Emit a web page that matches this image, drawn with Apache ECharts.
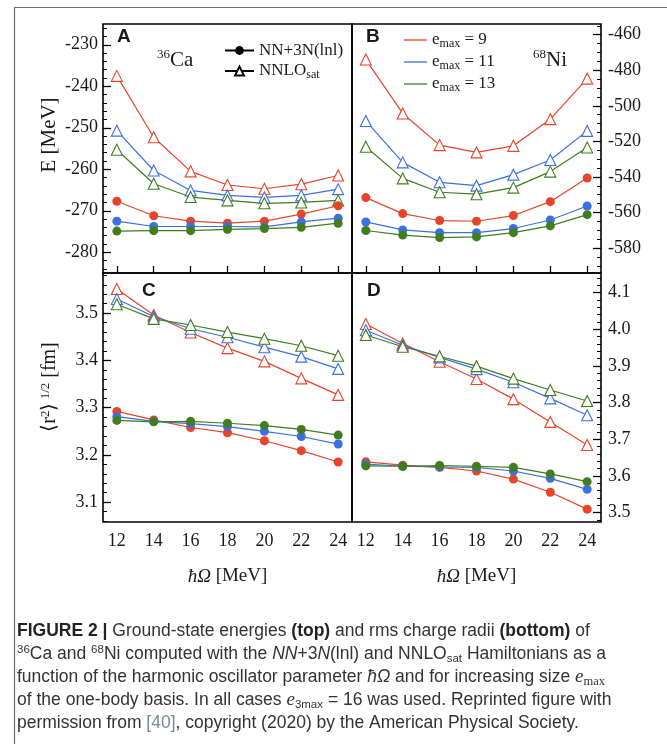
<!DOCTYPE html>
<html>
<head>
<meta charset="utf-8">
<script src="https://cdn.jsdelivr.net/npm/echarts@6/dist/echarts.min.js"></script>
<style>
  html, body { margin: 0; padding: 0; background: #fff; }
  #main { width: 667px; height: 744px; }
</style>
</head>
<body>
<div id="main"></div>
<script>
// harmonic oscillator frequency (MeV)
const hw = [12, 14, 16, 18, 20, 22, 24];

// A: 36Ca energies
const eCaLnl9 = [-267.7, -271.2, -272.5, -273.0, -272.5, -270.8, -268.8];
const eCaLnl11 = [-272.5, -273.8, -273.8, -273.8, -273.9, -272.7, -271.8];
const eCaLnl13 = [-274.9, -274.8, -274.8, -274.5, -274.3, -274.0, -273.0];
const eCaSat9 = [-237.5, -252.3, -260.5, -263.8, -264.7, -263.6, -261.5];
const eCaSat11 = [-250.7, -260.3, -265.1, -266.3, -266.8, -266.3, -264.8];
const eCaSat13 = [-255.3, -263.5, -266.7, -267.5, -268.2, -268.0, -267.5];

// B: 68Ni energies
const eNiLnl9 = [-551.6, -560.6, -564.5, -564.9, -561.7, -553.9, -540.6];
const eNiLnl11 = [-565.3, -569.8, -571.3, -571.3, -569.0, -564.2, -556.3];
const eNiLnl13 = [-570.1, -572.7, -574.1, -573.7, -571.3, -567.5, -561.2];
const eNiSat9 = [-474.0, -504.3, -522.1, -526.2, -522.5, -507.5, -484.7];
const eNiSat11 = [-508.5, -531.8, -543.0, -544.9, -538.7, -530.5, -514.1];
const eNiSat13 = [-523.0, -540.8, -548.6, -549.7, -546.0, -537.0, -523.4];

// C: 36Ca radii
const rCaLnl9 = [3.292, 3.274, 3.258, 3.247, 3.230, 3.209, 3.185];
const rCaLnl11 = [3.281, 3.271, 3.266, 3.260, 3.250, 3.239, 3.223];
const rCaLnl13 = [3.273, 3.270, 3.271, 3.267, 3.262, 3.254, 3.242];
const rCaSat9 = [3.551, 3.496, 3.459, 3.426, 3.398, 3.362, 3.327];
const rCaSat11 = [3.530, 3.493, 3.467, 3.449, 3.428, 3.408, 3.382];
const rCaSat13 = [3.519, 3.488, 3.475, 3.460, 3.446, 3.431, 3.410];

// D: 68Ni radii
const rNiLnl9 = [3.638, 3.629, 3.623, 3.613, 3.591, 3.555, 3.509];
const rNiLnl11 = [3.632, 3.626, 3.624, 3.623, 3.613, 3.593, 3.563];
const rNiLnl13 = [3.627, 3.626, 3.628, 3.626, 3.623, 3.605, 3.584];
const rNiSat9 = [4.014, 3.961, 3.911, 3.864, 3.809, 3.747, 3.684];
const rNiSat11 = [3.997, 3.956, 3.923, 3.891, 3.855, 3.811, 3.765];
const rNiSat13 = [3.984, 3.952, 3.926, 3.899, 3.865, 3.834, 3.804];

// tick labels
const xTicks = [12, 14, 16, 18, 20, 22, 24];
const eCaTicks = [-280, -270, -260, -250, -240, -230];
const eNiTicks = [-580, -560, -540, -520, -500, -480, -460];
const rCaTicks = [3.1, 3.2, 3.3, 3.4, 3.5];
const rNiTicks = [3.5, 3.6, 3.7, 3.8, 3.9, 4.0, 4.1];

const emaxNames = ['emax9', 'emax11', 'emax13'];
const colors = ['#e8432b', '#3c6fe0', '#3f7d1f'];

const serif = '"Liberation Serif", "Times New Roman", serif';
const sans = '"Liberation Sans", Arial, sans-serif';

let chart = echarts.init(document.getElementById('main'));

function minors(min, max, step) {
  let out = [];
  for (let k = Math.ceil(min / step - 1e-9); k * step <= max + 1e-9; k++) {
    out.push(+(k * step).toFixed(4));
  }
  return out;
}

// panel geometry
const L = 103, M = 352, T = 24, H = 273, W = 249;
const grids = [
  { left: L, top: T }, { left: M, top: T },
  { left: L, top: H }, { left: M, top: H },
];

const yRanges = [
  { min: -285, max: -225, ticks: eCaTicks, step: 2, right: false, dec: 0 },
  { min: -594, max: -454, ticks: eNiTicks, step: 5, right: true, dec: 0 },
  { min: 3.058, max: 3.585, ticks: rCaTicks, step: 0.02, right: false, dec: 1 },
  { min: 3.474, max: 4.153, ticks: rNiTicks, step: 0.02, right: true, dec: 1 },
];

const tickFont = { fontFamily: serif, fontSize: 18, color: '#1a1a1a' };

let xAxis = grids.map((g, i) => ({
  type: 'value',
  gridIndex: i,
  min: 11.25,
  max: 24.75,
  axisLine: { show: false },
  splitLine: { show: false },
  axisTick: {
    show: i < 2,
    inside: true,
    length: 7,
    customValues: xTicks,
    lineStyle: { color: '#000', width: 1.3 },
  },
  axisLabel: {
    show: i >= 2,
    customValues: xTicks,
    margin: 10,
    ...tickFont,
  },
  name: i >= 2 ? '{i|ħΩ} [MeV]' : '',
  nameLocation: 'middle',
  nameGap: 45,
  nameTextStyle: {
    fontFamily: serif, fontSize: 19, color: '#1a1a1a',
    rich: { i: { fontFamily: serif, fontSize: 19, fontStyle: 'italic', color: '#1a1a1a' } },
  },
}));

let yAxis = [];
yRanges.forEach((r, i) => {
  yAxis.push({
    type: 'value',
    gridIndex: i,
    min: r.min,
    max: r.max,
    position: r.right ? 'right' : 'left',
    axisLine: { show: false },
    splitLine: { show: false },
    axisTick: {
      inside: true,
      length: 8,
      customValues: r.ticks,
      lineStyle: { color: '#000', width: 1.3 },
    },
    axisLabel: {
      customValues: r.ticks,
      margin: r.right ? 7 : 5,
      formatter: v => v.toFixed(r.dec),
      ...tickFont,
    },
  });
});
yRanges.forEach((r, i) => {
  yAxis.push({
    type: 'value',
    gridIndex: i,
    min: r.min,
    max: r.max,
    position: r.right ? 'right' : 'left',
    axisLine: { show: false },
    splitLine: { show: false },
    axisLabel: { show: false },
    axisTick: {
      inside: true,
      length: 4,
      customValues: minors(r.min, r.max, r.step),
      lineStyle: { color: '#000', width: 1 },
    },
  });
});

const panels = [
  [eCaLnl9, eCaLnl11, eCaLnl13, eCaSat9, eCaSat11, eCaSat13],
  [eNiLnl9, eNiLnl11, eNiLnl13, eNiSat9, eNiSat11, eNiSat13],
  [rCaLnl9, rCaLnl11, rCaLnl13, rCaSat9, rCaSat11, rCaSat13],
  [rNiLnl9, rNiLnl11, rNiLnl13, rNiSat9, rNiSat11, rNiSat13],
];

let series = [];
panels.forEach((sets, p) => {
  sets.forEach((vals, k) => {
    let c = colors[k % 3];
    let sat = k >= 3;
    series.push({
      type: 'line',
      xAxisIndex: p,
      yAxisIndex: p,
      data: hw.map((x, j) => [x, vals[j]]),
      symbol: sat ? 'triangle' : 'circle',
      symbolSize: sat ? 11 : 9,
      lineStyle: { color: c, width: 1.2 },
      itemStyle: sat
        ? { color: '#fff', borderColor: c, borderWidth: 1.1 }
        : { color: c, borderWidth: 0 },
      z: sat ? 2 : 3,
      silent: true,
      animation: false,
    });
  });
});

// legend-only entries
series.push({
  type: 'line', name: 'NN+3N(lnl)', data: [], xAxisIndex: 0, yAxisIndex: 0,
  symbol: 'circle', symbolSize: 9,
  lineStyle: { color: '#000', width: 1.2 }, itemStyle: { color: '#000' },
});
series.push({
  type: 'line', name: 'NNLO_sat', data: [], xAxisIndex: 0, yAxisIndex: 0,
  symbol: 'triangle', symbolSize: 10,
  lineStyle: { color: '#000', width: 1.2 },
  itemStyle: { color: '#fff', borderColor: '#000', borderWidth: 1 },
});
emaxNames.forEach((n, k) => {
  series.push({
    type: 'line', name: n, data: [], xAxisIndex: 1, yAxisIndex: 1,
    symbol: 'none', lineStyle: { color: colors[k], width: 1.2 }, itemStyle: { color: colors[k] },
  });
});

const legText = {
  fontFamily: serif, fontSize: 17, color: '#1a1a1a', lineHeight: 19,
  rich: {
    sub: { fontFamily: serif, fontSize: 12, color: '#1a1a1a', padding: [8, 0, 0, 0], lineHeight: 11 },
  },
};

// caption text styles
const capRich = {
  b: { fontFamily: sans, fontSize: 17.5, fontWeight: 'bold', fill: '#222' },
  i: { fontFamily: sans, fontSize: 17.5, fontStyle: 'italic', fill: '#333' },
  sup: { fontFamily: sans, fontSize: 11.5, fill: '#333', verticalAlign: 'top', lineHeight: 20 },
  sub: { fontFamily: sans, fontSize: 11.5, fill: '#333', padding: [10, 0, 0, 0], lineHeight: 11 },
  ie: { fontFamily: serif, fontSize: 19, fontStyle: 'italic', fill: '#333' },
  subs: { fontFamily: serif, fontSize: 12.5, fill: '#333', padding: [10, 0, 0, 0], lineHeight: 11 },
  ref: { fontFamily: sans, fontSize: 17.5, fill: '#7b8a9a' },
};
const capLines = [
  '{b|FIGURE 2 |} Ground-state energies {b|(top)} and rms charge radii {b|(bottom)} of',
  '{sup|36}Ca and {sup|68}Ni computed with the {i|NN}+3{i|N}(lnl) and NNLO{sub|sat} Hamiltonians as a',
  'function of the harmonic oscillator parameter {i|ħΩ} and for increasing size {ie|e}{subs|max}',
  'of the one-body basis. In all cases {ie|e}{sub|3max} = 16 was used. Reprinted figure with',
  'permission from {ref|[40]}, copyright (2020) by the American Physical Society.',
];
const capY = [631, 654, 677, 700, 723];

function label(x, y, text, font, extra) {
  return {
    type: 'text', x: x, y: y, silent: true,
    style: Object.assign({ text: text, fill: '#1a1a1a', verticalAlign: 'middle' }, font, extra || {}),
  };
}

let graphic = [
  {
    type: 'rect', silent: true,
    shape: { x: 14.5, y: 7.5, width: 700, height: 800 },
    style: { fill: 'none', stroke: '#6d6d6d', lineWidth: 1.2 },
  },
  label(117, 37, 'A', { font: 'bold 19px ' + sans }),
  label(366, 37, 'B', { font: 'bold 19px ' + sans }),
  label(142, 291, 'C', { font: 'bold 19px ' + sans }),
  label(367, 291, 'D', { font: 'bold 19px ' + sans }),
  label(157, 60, '{s|36}{m|Ca}', {
    rich: {
      s: { fontFamily: serif, fontSize: 13, verticalAlign: 'top', lineHeight: 24, fill: '#1a1a1a' },
      m: { fontFamily: serif, fontSize: 21, lineHeight: 24, fill: '#1a1a1a' },
    },
  }),
  label(533, 60, '{s|68}{m|Ni}', {
    rich: {
      s: { fontFamily: serif, fontSize: 13, verticalAlign: 'top', lineHeight: 24, fill: '#1a1a1a' },
      m: { fontFamily: serif, fontSize: 21, lineHeight: 24, fill: '#1a1a1a' },
    },
  }),
  {
    type: 'text', x: 49, y: 135, rotation: Math.PI / 2, silent: true,
    style: { text: 'E [MeV]', font: '21px ' + serif, fill: '#1a1a1a', align: 'center', verticalAlign: 'middle' },
  },
  {
    type: 'text', x: 50, y: 387, rotation: Math.PI / 2, silent: true,
    style: {
      text: '⟨r{s|2}⟩{s| 1/2} [fm]', font: '20px ' + serif, fill: '#1a1a1a',
      align: 'center', verticalAlign: 'middle',
      rich: { s: { fontFamily: serif, fontSize: 13, verticalAlign: 'top', lineHeight: 22, fill: '#1a1a1a' } },
    },
  },
];
capLines.forEach((t, i) => {
  graphic.push(label(17, capY[i], t, { font: '17.5px ' + sans, fill: '#333', rich: capRich }));
});

let option = {
  backgroundColor: '#fff',
  animation: false,
  grid: grids.map(g => ({
    left: g.left, top: g.top, width: W, height: W,
    show: true, borderColor: '#000', borderWidth: 1.6, backgroundColor: 'transparent',
    containLabel: false,
  })),
  xAxis: xAxis,
  yAxis: yAxis,
  legend: [
    {
      data: ['NN+3N(lnl)', 'NNLO_sat'],
      orient: 'vertical', left: 219, top: 36,
      itemWidth: 29, itemHeight: 11, itemGap: 1,
      selectedMode: false,
      textStyle: legText,
      formatter: n => n === 'NNLO_sat' ? 'NNLO{sub|sat}' : n,
    },
    {
      data: emaxNames.map(n => ({ name: n, icon: 'rect' })),
      orient: 'vertical', left: 399, top: 25,
      itemWidth: 23, itemHeight: 1.3, itemGap: 2,
      selectedMode: false,
      textStyle: legText,
      formatter: n => 'e{sub|max} = ' + n.slice(4),
    },
  ],
  series: series,
  graphic: graphic,
};

chart.setOption(option);
</script>
</body>
</html>
